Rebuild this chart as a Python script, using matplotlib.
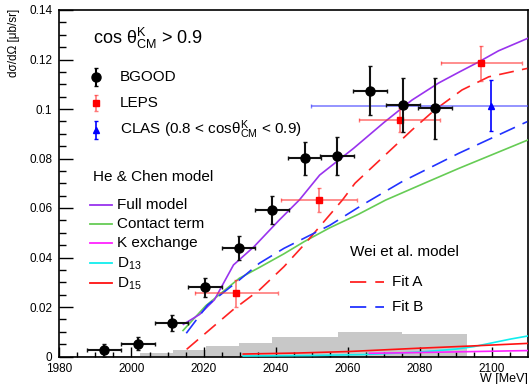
import matplotlib
matplotlib.use("Agg")
import matplotlib.pyplot as plt
import numpy as np

plt.rcParams['font.family'] = ['Liberation Sans', 'DejaVu Sans']
plt.rcParams['mathtext.fontset'] = 'custom'
plt.rcParams['mathtext.rm'] = 'Liberation Sans'
plt.rcParams['mathtext.it'] = 'Liberation Sans:italic'
plt.rcParams['mathtext.bf'] = 'Liberation Sans:bold'

# ---- data ----
bgood_w = [1992.4, 2001.8, 2011.1, 2020.5, 2029.7, 2038.9, 2048.0, 2057.0, 2066.2, 2075.3, 2084.1]
bgood_y = [0.0025, 0.0052, 0.0134, 0.0280, 0.0438, 0.0592, 0.0801, 0.0811, 0.1074, 0.1016, 0.1003]
bgood_yerr = [0.0026, 0.0027, 0.0032, 0.0038, 0.0050, 0.0057, 0.0067, 0.0077, 0.0100, 0.0110, 0.0124]
bgood_xerr = [4.7] * 11

leps_w = [2029.1, 2052.0, 2074.4, 2097.0]
leps_y = [0.0255, 0.0632, 0.0956, 0.1185]
leps_xerr = [11.5, 10.6, 11.3, 11.2]
leps_yerr = [0.0053, 0.0050, 0.0050, 0.0070]

clas_w = [2099.7]
clas_y = [0.1013]
clas_xerr = [50.0]
clas_yerr = [0.0103]

full_w = [2014.4, 2018.9, 2023.0, 2028.3, 2034.0, 2040.9, 2046.6, 2052.2, 2061.6, 2070.0,
          2077.8, 2085.2, 2091.0, 2096.3, 2101.8, 2110.0]
full_y = [0.0130, 0.0170, 0.0229, 0.0370, 0.0444, 0.0550, 0.0633, 0.0733, 0.0841, 0.0945,
          0.1036, 0.1105, 0.1150, 0.1190, 0.1235, 0.1286]

contact_w = [2014.3, 2020.6, 2029.9, 2035.5, 2042.3, 2047.9, 2055.0, 2063.0, 2070.5, 2082.5, 2090.8, 2110.0]
contact_y = [0.0105, 0.0205, 0.0316, 0.0360, 0.0415, 0.0464, 0.0520, 0.0575, 0.0632, 0.0708, 0.0760, 0.0875]

kexch_w = [2066.0, 2080.0, 2095.0, 2110.0]
kexch_y = [0.0013, 0.0016, 0.0020, 0.0024]

d13_w = [2031.0, 2050.0, 2065.0, 2080.0, 2090.0, 2095.0, 2100.0, 2105.0, 2110.0]
d13_y = [0.0002, 0.0004, 0.0008, 0.0018, 0.0030, 0.0040, 0.0055, 0.0070, 0.0083]

d15_w = [2031.0, 2046.0, 2060.0, 2079.0, 2093.5, 2110.0]
d15_y = [0.0010, 0.0014, 0.0020, 0.0033, 0.0042, 0.0053]

fitA_w = [2015.3, 2028.1, 2035.5, 2042.3, 2048.4, 2058.5, 2062.0, 2077.8, 2084.1, 2091.7, 2099.1, 2109.8]
fitA_y = [0.0029, 0.0188, 0.0269, 0.0363, 0.0460, 0.0632, 0.0700, 0.0915, 0.0996, 0.1077, 0.1130, 0.1164]

fitB_w = [2015.2, 2021.1, 2029.9, 2035.5, 2042.3, 2055.0, 2064.0, 2075.0, 2090.8, 2109.8]
fitB_y = [0.0094, 0.0208, 0.0309, 0.0377, 0.0437, 0.0530, 0.0612, 0.0706, 0.0821, 0.0949]

sys_edges = [1983.0, 2002.3, 2011.5, 2020.7, 2029.9, 2039.1, 2057.4, 2075.1, 2093.2]
sys_heights = [0.0004, 0.0016, 0.0025, 0.0042, 0.0056, 0.0077, 0.0100, 0.0092]

# ---- colors ----
c_full = '#9933ee'
c_contact = '#66cc55'
c_kexch = '#ff22ff'
c_d13 = '#11eeee'
c_d15 = '#ff1111'
c_fitA = '#ff2222'
c_fitB = '#2233ff'

W, H = 529, 384
fig = plt.figure(figsize=(W / 100, H / 100), dpi=100)
ax = fig.add_axes([59.4 / W, 1 - 356.5 / H, (528 - 59.4) / W, (356.5 - 10) / H])

ax.stairs(sys_heights, sys_edges, fill=True, color='#c8c8c8', zorder=1)

lw = 1.2
ax.plot(d13_w, d13_y, color=c_d13, lw=lw, zorder=3)
ax.plot(kexch_w, kexch_y, color=c_kexch, lw=lw, zorder=3)
ax.plot(d15_w, d15_y, color=c_d15, lw=lw, zorder=3)
ax.plot(contact_w, contact_y, color=c_contact, lw=lw, zorder=3)
ax.plot(full_w, full_y, color=c_full, lw=lw, zorder=3)
ax.plot(fitA_w, fitA_y, color=c_fitA, lw=lw, dashes=(9, 5), zorder=3)
ax.plot(fitB_w, fitB_y, color=c_fitB, lw=lw, dashes=(10, 5), zorder=3)

# CLAS
ax.errorbar(clas_w, clas_y, xerr=clas_xerr, fmt='none', ecolor=(0.3, 0.3, 1.0, 0.7),
            elinewidth=1.2, capsize=1.5, zorder=4)
ax.errorbar(clas_w, clas_y, yerr=clas_yerr, fmt='^', color='#0000ff', ms=4.5,
            ecolor='#0000ff', elinewidth=1.2, capsize=1.5, zorder=5)
# LEPS
ax.errorbar(leps_w, leps_y, xerr=leps_xerr, yerr=leps_yerr, fmt='s', color='#ff0000', ms=4.5,
            ecolor=(1.0, 0.2, 0.2, 0.65), elinewidth=1.2, capsize=1.5, zorder=5)
# BGOOD
ax.errorbar(bgood_w, bgood_y, xerr=bgood_xerr, yerr=bgood_yerr, fmt='o', color='black', ms=6.5,
            ecolor='#111111', elinewidth=1.5, capsize=1.5, zorder=6)

ax.set_xlim(1980, 2110)
ax.set_ylim(0, 0.14)
ax.set_xticks(np.arange(1980, 2101, 20))
ax.set_xticks(np.arange(1980, 2110, 5), minor=True)
ax.set_yticks(np.arange(0, 0.141, 0.02))
ax.set_yticks(np.arange(0, 0.141, 0.005), minor=True)
ax.set_yticklabels(['0', '0.02', '0.04', '0.06', '0.08', '0.1', '0.12', '0.14'])
ax.tick_params(axis='both', which='both', direction='in', labelsize=8.5, width=1.0)
ax.tick_params(axis='y', which='major', length=10, pad=5)
ax.tick_params(axis='y', which='minor', length=5)
ax.tick_params(axis='x', which='major', length=7, pad=4.5)
ax.tick_params(axis='x', which='minor', length=3.6)
for s in ax.spines.values():
    s.set_linewidth(1.2)

ax.set_xlabel('W [MeV]', fontsize=9, loc='right', labelpad=-1)

# ---- legend / annotations (overlay in pixel coords) ----
ov = fig.add_axes([0, 0, 1, 1], zorder=10)
ov.set_xlim(0, W)
ov.set_ylim(H, 0)
ov.axis('off')
ov.patch.set_alpha(0)

ov.text(14, 9, 'dσ/dΩ [μb/sr]', fontsize=8.5, rotation=90, ha='center', va='top')

ov.text(93, 38, r'cos θ$^{\rm K}_{\rm CM}$ > 0.9', fontsize=13, va='center', ha='left')

fs = 11
ov.errorbar([96], [77], yerr=[[9], [9]], fmt='o', color='black', ms=6.5, elinewidth=1.5, capsize=1.5)
ov.text(120, 77, 'BGOOD', fontsize=fs, va='center')
ov.errorbar([96], [103], yerr=[[8], [8]], fmt='s', color='#ff0000', ms=4.5,
            ecolor=(1.0, 0.2, 0.2, 0.65), elinewidth=1.2, capsize=1.5)
ov.text(120, 103, 'LEPS', fontsize=fs, va='center')
ov.errorbar([96], [130], yerr=[[9], [9]], fmt='^', color='#0000ff', ms=4, elinewidth=1.2, capsize=1.5)
ov.text(120, 130, r'CLAS (0.8 < cosθ$^{\rm K}_{\rm CM}$ < 0.9)', fontsize=fs, va='center')

ov.text(93, 177, 'He & Chen model', fontsize=fs, va='center')
items = [('Full model', c_full, 205), ('Contact term', c_contact, 224.3),
         ('K exchange', c_kexch, 243.3), (r'D$_{\rm 13}$', c_d13, 263.3),
         (r'D$_{\rm 15}$', c_d15, 283.3)]
for lab, col, yy in items:
    ov.plot([90, 112], [yy, yy], color=col, lw=1.3)
    ov.text(117, yy, lab, fontsize=fs, va='center')

ov.text(350, 251.7, 'Wei et al. model', fontsize=fs, va='center')
ov.plot([350, 384], [281.7, 281.7], color=c_fitA, lw=1.3, dashes=(9, 5))
ov.text(392, 281.7, 'Fit A', fontsize=fs, va='center')
ov.plot([350, 384], [307.3, 307.3], color=c_fitB, lw=1.3, dashes=(9, 5))
ov.text(392, 307.3, 'Fit B', fontsize=fs, va='center')

fig.savefig('out.png', dpi=100)
